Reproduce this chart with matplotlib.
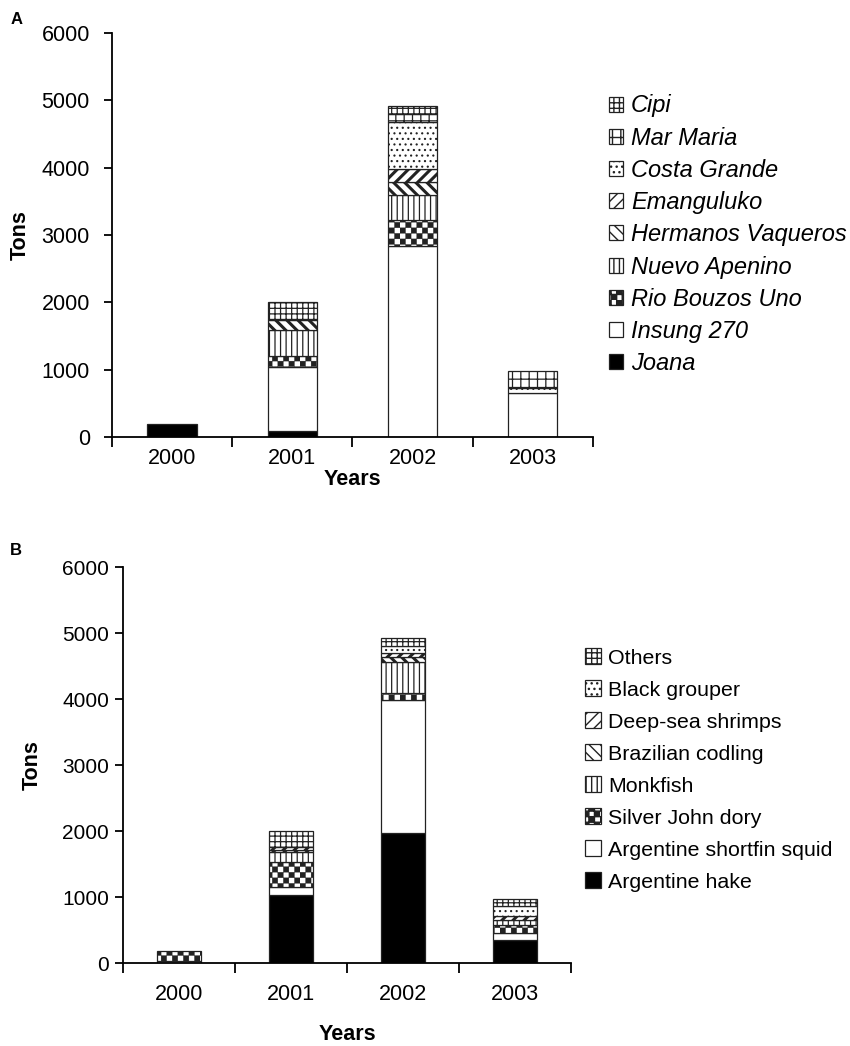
import warnings

import matplotlib
matplotlib.use("Agg")
import matplotlib.pyplot as plt
import matplotlib.hatch as mhatch
import matplotlib.patches as mpatches
from matplotlib.path import Path
import numpy as np

warnings.filterwarnings("ignore", category=matplotlib.MatplotlibDeprecationWarning)

years = ["2000", "2001", "2002", "2003"]

# Panel A: catches by vessel (tons), bottom to top of each stack
vessels = ["Joana", "Insung 270", "Rio Bouzos Uno", "Nuevo Apenino",
           "Hermanos Vaqueros", "Emanguluko", "Costa Grande", "Mar Maria", "Cipi"]
joana = [190, 90, 0, 0]
insung = [0, 950, 2840, 650]
rio_bouzos = [0, 165, 380, 0]
nuevo_apenino = [0, 390, 370, 0]
hermanos_vaqueros = [0, 150, 190, 0]
emanguluko = [0, 0, 205, 0]
costa_grande = [0, 0, 695, 75]
mar_maria = [0, 0, 120, 255]
cipi = [0, 255, 120, 0]

# Panel B: catches by species (tons)
species = ["Argentine hake", "Argentine shortfin squid", "Silver John dory",
           "Monkfish", "Brazilian codling", "Deep-sea shrimps",
           "Black grouper", "Others"]
hake = [0, 1030, 1970, 350]
squid = [35, 120, 2015, 100]
john_dory = [145, 380, 110, 120]
monkfish = [0, 150, 460, 75]
codling = [0, 40, 80, 0]
shrimps = [0, 35, 70, 75]
grouper = [0, 0, 105, 150]
others = [0, 245, 120, 105]


class CheckerHatch(mhatch.HatchPatternBase):
    """Filled checkerboard hatch, selected with the letter 'c'."""

    def __init__(self, hatch, density):
        n = hatch.count("c") * density
        self.n = n + n % 2
        self.num_vertices = (self.n * self.n // 2) * 5

    def set_vertices_and_codes(self, vertices, codes):
        step = 1.0 / self.n
        k = 0
        for i in range(self.n):
            for j in range(self.n):
                if (i + j) % 2:
                    continue
                x0, y0 = i * step, j * step
                vertices[k:k + 5] = [(x0, y0), (x0 + step, y0),
                                     (x0 + step, y0 + step), (x0, y0 + step),
                                     (x0, y0)]
                codes[k:k + 5] = [Path.MOVETO, Path.LINETO, Path.LINETO,
                                  Path.LINETO, Path.CLOSEPOLY]
                k += 5


mhatch._hatch_types.append(CheckerHatch)

plt.rcParams["font.family"] = ["Liberation Sans", "DejaVu Sans"]
plt.rcParams["hatch.color"] = "black"

STYLES = {
    # facecolor, hatch, hatch linewidth
    "black": ("black", None, 1.0),
    "white": ("white", None, 1.0),
    "checker": ("white", "ccc", 0.2),
    "vert": ("white", "|||", 0.9),
    "back": ("white", "\\\\\\", 2.2),
    "fwd": ("white", "///", 2.2),
    "dots": ("white", "...", 0.8),
    "grid": ("white", "++", 0.9),
    "dense": ("white", "+++", 0.9),
}


def set_hlw(patch, lw):
    if hasattr(patch, "set_hatch_linewidth"):
        patch.set_hatch_linewidth(lw)


def draw_panel(ax, series, labels, kinds, width, fontsize):
    x = np.arange(len(years))
    bottom = np.zeros(len(years))
    handles = []
    for vals, label, kind in zip(series, labels, kinds):
        fc, hatch, hlw = STYLES[kind]
        vals = np.array(vals, dtype=float)
        bars = ax.bar(x, vals, width, bottom=bottom, color=fc, hatch=hatch,
                      edgecolor="#222222", linewidth=0.9)
        for b, v in zip(bars, vals):
            set_hlw(b, hlw)
            if v == 0:
                b.set_visible(False)
        proxy = mpatches.Patch(facecolor=fc, hatch=hatch,
                               edgecolor="#222222", linewidth=0.9)
        set_hlw(proxy, hlw)
        handles.append(proxy)
        bottom += vals

    ax.set_xlim(-0.5, len(years) - 0.5)
    ax.set_ylim(0, 6000)
    ax.set_yticks(range(0, 6001, 1000))
    ax.set_xticks(x)
    ax.set_xticklabels(years)
    ax.set_xticks(np.arange(-0.5, len(years)), minor=True)
    ax.tick_params(axis="x", which="minor", length=7, width=1.3,
                   direction="out")
    ax.tick_params(axis="y", length=6, width=1.3, direction="out",
                   labelsize=fontsize)
    for side in ("top", "right"):
        ax.spines[side].set_visible(False)
    for side in ("left", "bottom"):
        ax.spines[side].set_linewidth(1.3)
    return handles


def main():
    fig = plt.figure(figsize=(8.5, 10.46), dpi=100)

    ax_a = fig.add_axes([0.1318, 0.5822, 0.5658, 0.3863])
    series_a = [joana, insung, rio_bouzos, nuevo_apenino, hermanos_vaqueros,
                emanguluko, costa_grande, mar_maria, cipi]
    kinds_a = ["black", "white", "checker", "vert", "back", "fwd", "dots",
               "grid", "dense"]
    handles_a = draw_panel(ax_a, series_a, vessels, kinds_a, 0.41, 15.5)
    ax_a.tick_params(axis="x", which="major", length=0, pad=8, labelsize=15.5)
    ax_a.tick_params(axis="y", pad=10)
    ax_a.set_ylabel("Tons", fontsize=15.5, fontweight="bold", labelpad=8)
    ax_a.set_xlabel("Years", fontsize=15.5, fontweight="bold", labelpad=0)
    fig.legend(handles_a[::-1], vessels[::-1], loc="upper left",
               bbox_to_anchor=(0.691, 0.930), frameon=False,
               prop={"style": "italic", "size": 17}, handlelength=0.6,
               handleheight=0.6, handletextpad=0.35, labelspacing=0.39)
    fig.text(0.012, 0.989, "A", fontsize=12, fontweight="bold", va="top")

    ax_b = fig.add_axes([0.1447, 0.0793, 0.5271, 0.3786])
    series_b = [hake, squid, john_dory, monkfish, codling, shrimps,
                grouper, others]
    kinds_b = ["black", "white", "checker", "vert", "back", "fwd", "dots",
               "dense"]
    handles_b = draw_panel(ax_b, series_b, species, kinds_b, 0.40, 15)
    ax_b.tick_params(axis="x", which="major", length=0, pad=15, labelsize=15.5)
    ax_b.tick_params(axis="y", pad=4)
    ax_b.set_ylabel("Tons", fontsize=15.5, fontweight="bold", labelpad=14)
    ax_b.set_xlabel("Years", fontsize=15.5, fontweight="bold", labelpad=14)
    fig.legend(handles_b[::-1], species[::-1], loc="upper left",
               bbox_to_anchor=(0.666, 0.3985), frameon=False,
               prop={"size": 15.4}, handlelength=0.73, handleheight=0.73,
               handletextpad=0.35, labelspacing=0.6)
    fig.text(0.012, 0.481, "B", fontsize=12, fontweight="bold", va="top")

    fig.savefig("out.png", dpi=100)


if __name__ == "__main__":
    main()
